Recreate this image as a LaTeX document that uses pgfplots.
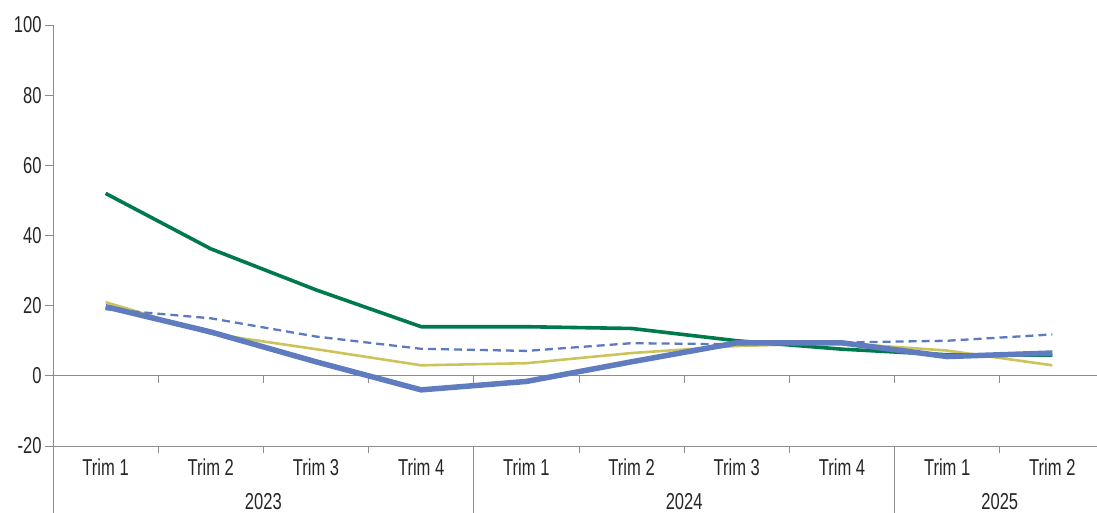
\documentclass[border=0pt]{standalone}
\usepackage{fontspec}
\setmainfont{Liberation Sans}[FakeStretch=0.72]
\usepackage{pgfplots}
\pgfplotsset{compat=1.18}
\definecolor{cgreen}{RGB}{0,122,77}
\definecolor{cblue}{RGB}{96,124,192}
\definecolor{cdash}{RGB}{92,122,194}
\definecolor{cyellow}{RGB}{204,196,90}
\definecolor{cax}{RGB}{140,140,140}
\begin{document}
\begin{tikzpicture}
\path[use as bounding box] (-53pt,-67pt) rectangle (1044pt,446pt);
\begin{axis}[at={(0,0)}, anchor=south west, scale only axis,
  width=1052pt, height=421pt,
  xmin=-0.5, xmax=9.5, ymin=-20, ymax=100,
  axis y line*=left, axis x line*=bottom,
  axis line style={draw=cax, line width=0.8pt, -},
  clip=false,
  xtick={0,...,9},
  xticklabels={Trim 1,Trim 2,Trim 3,Trim 4,Trim 1,Trim 2,Trim 3,Trim 4,Trim 1,Trim 2},
  xtick style={draw=none},
  ytick={-20,0,20,40,60,80,100},
  yticklabels={-20,0,20,40,60,80,100},
  ytick style={draw=cax, line width=0.8pt},
  tick align=outside, major tick length=8pt,
  ticklabel style={font=\fontsize{23}{27}\selectfont, text=black!85},
  xticklabel style={anchor=center, yshift=-13pt},
]
\draw[cax, line width=0.8pt] (axis cs:-0.5,0) -- (axis cs:9.5,0);
\pgfplotsinvokeforeach{0.5,1.5,2.5,3.5,4.5,5.5,6.5,7.5,8.5}{
  \draw[cax, line width=0.8pt] (axis cs:#1,0) -- ([yshift=-7pt]axis cs:#1,0);
}
\pgfplotsinvokeforeach{0.5,1.5,2.5,4.5,5.5,6.5,8.5}{
  \draw[cax, line width=0.8pt] (axis cs:#1,-20) -- ([yshift=-7pt]axis cs:#1,-20);
}
\pgfplotsinvokeforeach{-0.5,3.5,7.5}{
  \draw[cax, line width=0.8pt] (axis cs:#1,-20) -- ([yshift=-70pt]axis cs:#1,-20);
}
\node[font=\fontsize{23}{27}\selectfont, text=black!85] at ([yshift=-56pt]axis cs:1.5,-20) {2023};
\node[font=\fontsize{23}{27}\selectfont, text=black!85] at ([yshift=-56pt]axis cs:5.5,-20) {2024};
\node[font=\fontsize{23}{27}\selectfont, text=black!85] at ([yshift=-56pt]axis cs:8.5,-20) {2025};

\addplot[cyellow, line width=2.6pt, line join=round] coordinates {
 (0,21) (1,12) (2,7.6) (3,3.0) (4,3.6) (5,6.5) (6,8.5) (7,9.3) (8,7.2) (9,3.0)};
\addplot[cgreen, line width=3.6pt, line join=round] coordinates {
 (0,52) (1,36.2) (2,24.5) (3,14.0) (4,14.0) (5,13.5) (6,10.0) (7,7.6) (8,6.0) (9,5.9)};
\addplot[cdash, line width=2.3pt, dash pattern=on 8pt off 5pt] coordinates {
 (0,19) (1,16.4) (2,11.2) (3,7.7) (4,7.1) (5,9.3) (6,9.0) (7,9.5) (8,10.0) (9,11.8)};
\addplot[cblue, line width=5.5pt, line join=round] coordinates {
 (0,19.7) (1,12.5) (2,4.0) (3,-4.0) (4,-1.6) (5,4.0) (6,9.4) (7,9.4) (8,5.5) (9,6.5)};
\end{axis}
\end{tikzpicture}
\end{document}
